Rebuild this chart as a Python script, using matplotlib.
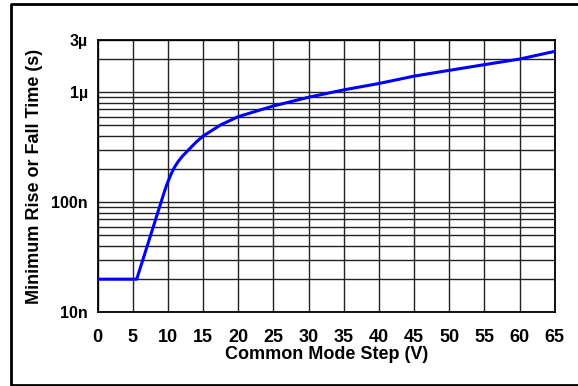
import matplotlib
matplotlib.use("Agg")
import matplotlib.pyplot as plt
from matplotlib.lines import Line2D
from matplotlib.ticker import FixedLocator, NullFormatter

# common mode step (V) vs minimum rise/fall time (s)
step_v = [0, 5.55, 9.4, 9.8, 10.2, 10.6, 11, 11.5, 12, 13, 14, 15, 17.5, 20, 25, 30,
          35, 40, 45, 50, 55, 60, 65]
rise_s = [20e-9, 20e-9, 120e-9, 143e-9, 166e-9, 190e-9, 212e-9, 237e-9, 260e-9,
          303e-9, 352e-9, 400e-9, 505e-9, 600e-9, 750e-9, 900e-9, 1.05e-6, 1.2e-6,
          1.4e-6, 1.58e-6, 1.78e-6, 2.0e-6, 2.35e-6]

x_ticks = list(range(0, 70, 5))
y_ticks = [1e-8, 1e-7, 1e-6, 3e-6]
y_tick_labels = ["10n", "100n", "1\u00b5", "3\u00b5"]
y_minor = [k * 1e-8 for k in range(2, 10)] + [k * 1e-7 for k in range(2, 10)] + [2e-6]

plt.rcParams['font.family'] = ['Liberation Sans', 'DejaVu Sans']
plt.rcParams['font.weight'] = 'bold'

fig = plt.figure(figsize=(5.78, 3.86), dpi=100)
W, H = 578, 386
ax = fig.add_axes([97.7 / W, 1 - 312.3 / H, (554.7 - 97.7) / W, (312.3 - 39.7) / H])

ax.plot(step_v, rise_s, color='#0000ff', lw=2.2, zorder=3)
ax.set_yscale('log')
ax.set_xlim(0, 65)
ax.set_ylim(1e-8, 3e-6)

ax.set_xticks(x_ticks)
ax.set_xticklabels([str(t) for t in x_ticks], fontsize=13, fontweight='bold')
ax.yaxis.set_major_locator(FixedLocator(y_ticks))
ax.set_yticklabels(y_tick_labels, fontsize=11.5, fontweight='bold')
ax.yaxis.set_minor_locator(FixedLocator(y_minor))
ax.yaxis.set_minor_formatter(NullFormatter())
ax.tick_params(which='both', length=0)
ax.tick_params(axis='x', pad=12)
ax.tick_params(axis='y', pad=7)

ax.grid(True, which='major', color='#222222', lw=1)
ax.grid(True, which='minor', axis='y', color='#222222', lw=1)
for s in ax.spines.values():
    s.set_linewidth(1.3)

ax.set_xlabel('Common Mode Step (V)', fontsize=13, fontweight='bold', labelpad=0)
ax.set_ylabel('Minimum Rise or Fall Time (s)', fontsize=13, fontweight='bold', labelpad=6)

# outer frame: top, left, bottom (right edge is cut off)
fx = [1.0, 11 / W, 11 / W, 1.0]
fy = [1 - 4 / H, 1 - 4 / H, 1 - 385 / H, 1 - 385 / H]
fig.lines.append(Line2D(fx, fy, transform=fig.transFigure, color='black', lw=2))

fig.savefig('out.png', dpi=100)
